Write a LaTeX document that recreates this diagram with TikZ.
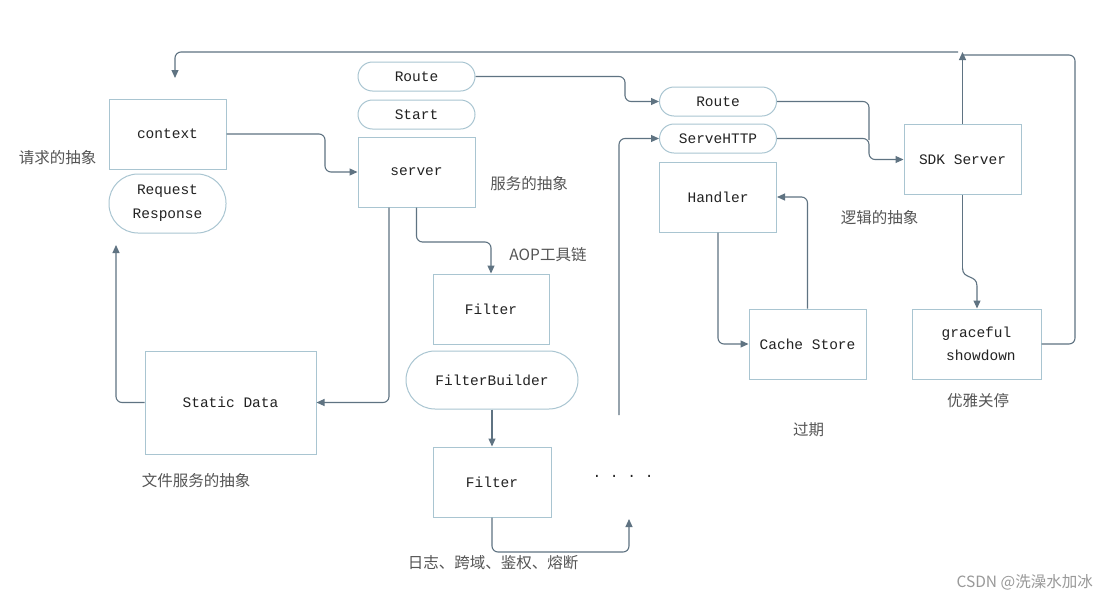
\documentclass[tikz,border=0pt]{standalone}
\usepackage{fontspec}
\setmonofont{Liberation Mono}
\newfontfamily\cjk{Noto Sans CJK SC}
\usetikzlibrary{arrows.meta}
\definecolor{boxc}{HTML}{A9C5D1}
\definecolor{linec}{HTML}{5F7382}
\definecolor{txtc}{HTML}{222222}
\definecolor{lblc}{HTML}{555555}
\tikzset{
  box/.style={draw=boxc, line width=1pt, minimum width=117pt, minimum height=70pt, inner sep=0pt, text=txtc, font=\ttfamily\fontsize{14.5}{23}\selectfont, align=center},
  pill/.style={draw=boxc, line width=1pt, minimum width=117pt, minimum height=29pt, rounded corners=14.5pt, inner sep=0pt, text=txtc, font=\ttfamily\fontsize{14.5}{24}\selectfont, align=center},
  conn/.style={draw=linec, line width=1.1pt, rounded corners=6pt},
  arr/.style={conn, -{Triangle[length=8pt,width=7pt]}},
  lbl/.style={text=lblc, font=\cjk\fontsize{15.5}{18}\selectfont, inner sep=0pt},
}
\begin{document}
\begin{tikzpicture}[x=1pt,y=-1pt]
\useasboundingbox[fill=white] (0,0) rectangle (1110,603);

% nodes
\node[box] (context) at (167.5,134) {context};
\node[pill, minimum height=59pt, rounded corners=29pt] (req) at (167.5,203.5) {Request\\Response};
\node[pill] (route1) at (416.5,76.5) {Route};
\node[pill] (start) at (416.5,114.5) {Start};
\node[box] (server) at (416.5,172) {server};
\node[box, minimum width=116pt] (f1) at (491,309) {Filter};
\node[pill, minimum width=172pt, minimum height=58pt, rounded corners=29pt] (fb) at (492,380) {FilterBuilder};
\node[box, minimum width=118pt] (f2) at (492,482) {Filter};
\node[box, minimum width=171pt, minimum height=103pt] (static) at (230.5,402.5) {Static Data};
\node[pill] (route2) at (718,101.5) {Route};
\node[pill] (serve) at (718,138.5) {ServeHTTP};
\node[box] (handler) at (718,197) {Handler};
\node[box] (cache) at (807.5,344) {Cache Store};
\node[box] (sdk) at (962.5,159.5) {SDK Server};
\node[box, minimum width=129pt] (grace) at (976.5,344) {graceful\\\ showdown};
\node[text=txtc, font=\ttfamily\fontsize{14.5}{18}\selectfont, inner sep=0pt] (dots) at (623,476) {. . . .};

% labels
\node[lbl] (l1) at (57.5,158) {请求的抽象};
\node[lbl] (l2) at (529,184) {服务的抽象};
\node[lbl] (l3) at (548,255) {AOP工具链};
\node[lbl] (l4) at (196,481) {文件服务的抽象};
\node[lbl] (l5) at (493,563) {日志、跨域、鉴权、熔断};
\node[lbl] (l6) at (879.5,218) {逻辑的抽象};
\node[lbl] (l7) at (808.5,430) {过期};
\node[lbl] (l8) at (978,401) {优雅关停};
\node[text=black!40, font=\cjk\fontsize{15.5}{18}\selectfont, inner sep=0pt, anchor=east] (wm) at (1093,582) {CSDN @洗澡水加冰};

% free-end coordinates
\coordinate (reqend) at (116,245);
\coordinate (dotsend) at (629,519);
\coordinate (vstart) at (619,415);
\coordinate (topstart) at (958,52);
\coordinate (ctxend) at (175,78);
\coordinate (sdktop) at (962.5,52);
\coordinate (gracetop) at (962.5,55);

% connectors
\draw[arr] (context.east) -- (325,134) |- (server.west);
\draw[arr] (server.south) -- (416.5,242) -| (f1.north);
\draw[arr] ([xshift=-27.5pt]server.south) |- (static.east);
\draw[arr] (static.west) -| (reqend);
\draw[arr] (fb.south) -- (f2.north);
\draw[arr] (f2.south) -- (492,552) -| (dotsend);
\draw[arr] (vstart) |- (serve.west);
\draw[arr] (route1.east) -- (625,76.5) |- (route2.west);
\draw[conn] (route2.east) -- (869,101.5) -- (869,140);
\draw[arr] (serve.east) -- (869,138.5) |- (sdk.west);
\draw[arr] (handler.south) |- (cache.west);
\draw[arr] (cache.north) |- (handler.east);
\draw[conn] (sdk.south) -- (962.5,268);
\draw[arr, rounded corners=0pt] (962.5,268) .. controls (962.5,280) and (977,274) .. (977,286) -- (grace.north -| 977,0);
\draw[arr] (sdk.north) -- (sdktop);
\draw[conn] (grace.east) -- (1075,344) -- (1075,55) -- (gracetop);
\draw[arr] (topstart) -- (175,52) -- (ctxend);
\end{tikzpicture}
\end{document}
